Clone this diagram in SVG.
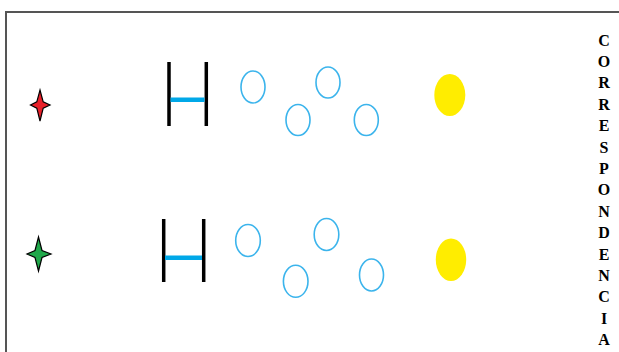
<svg xmlns="http://www.w3.org/2000/svg" width="619" height="352" viewBox="0 0 619 352">
<style>
.frame{fill:none;stroke:#555;stroke-width:2}
.post{stroke:#000;stroke-width:3.5;fill:none}
.bar{stroke:#00a8e8;stroke-width:4.5;fill:none}
.ring{fill:none;stroke:#3bb4ec;stroke-width:1.6}
.sun{fill:#ffed00}
.star{stroke:#000;stroke-width:1.2;stroke-linejoin:miter}
.lbl{font-family:"Liberation Serif","Times New Roman",serif;font-weight:bold;font-size:16px;text-anchor:middle;fill:#000}
</style>
<rect width="619" height="352" fill="#fff"/>
<rect class="frame" x="6" y="12" width="640" height="360"/>
<g id="star-red"><path class="star" fill="#e8202a" d="M40,90 L43.2,101.8 L50,105 L43.2,108.2 L40,121 L36.8,108.2 L30.5,105 L36.8,101.8 Z"/></g>
<g id="star-green"><path class="star" fill="#1fa84a" d="M38.5,237 L42,250.5 L51,254 L42,257.5 L38.5,271 L35,257.5 L27,254 L35,250.5 Z"/></g>
<g id="h-top"><line class="post" x1="169" y1="62" x2="169" y2="126"/><line class="post" x1="206.3" y1="62" x2="206.3" y2="126"/><line class="bar" x1="170.5" y1="99.7" x2="204.5" y2="99.7"/></g>
<g id="h-bottom"><line class="post" x1="163.7" y1="219" x2="163.7" y2="282"/><line class="post" x1="203.7" y1="219" x2="203.7" y2="282"/><line class="bar" x1="165" y1="257.7" x2="202" y2="257.7"/></g>
<g id="rings-top">
<ellipse class="ring" cx="253" cy="87" rx="12" ry="16"/>
<ellipse class="ring" cx="328" cy="82.5" rx="12" ry="15.5"/>
<ellipse class="ring" cx="298" cy="120" rx="12" ry="15.5"/>
<ellipse class="ring" cx="366.3" cy="120" rx="12" ry="15.5"/>
</g>
<g id="rings-bottom">
<ellipse class="ring" cx="248" cy="240.5" rx="12.3" ry="16"/>
<ellipse class="ring" cx="326.5" cy="234.5" rx="12.3" ry="16"/>
<ellipse class="ring" cx="295.7" cy="281.3" rx="12.3" ry="16"/>
<ellipse class="ring" cx="371.5" cy="275" rx="12" ry="16"/>
</g>
<g id="sun-top"><ellipse class="sun" cx="449.8" cy="95" rx="15.5" ry="21"/></g>
<g id="sun-bottom"><ellipse class="sun" cx="451" cy="259.7" rx="15.2" ry="21.3"/></g>
<g id="label">
<text class="lbl" x="604" y="45.5">C</text>
<text class="lbl" x="604" y="66.9">O</text>
<text class="lbl" x="604" y="88.3">R</text>
<text class="lbl" x="604" y="109.7">R</text>
<text class="lbl" x="604" y="131.1">E</text>
<text class="lbl" x="604" y="152.5">S</text>
<text class="lbl" x="604" y="173.9">P</text>
<text class="lbl" x="604" y="195.3">O</text>
<text class="lbl" x="604" y="216.7">N</text>
<text class="lbl" x="604" y="238.1">D</text>
<text class="lbl" x="604" y="259.5">E</text>
<text class="lbl" x="604" y="280.9">N</text>
<text class="lbl" x="604" y="302.3">C</text>
<text class="lbl" x="604" y="323.7">I</text>
<text class="lbl" x="604" y="345.1">A</text>
</g>
</svg>
